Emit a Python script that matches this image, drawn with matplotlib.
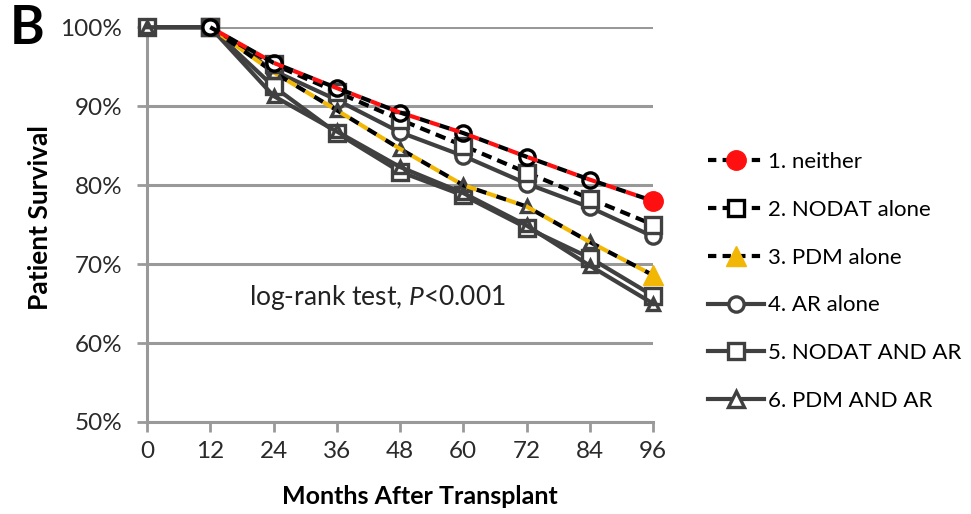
import matplotlib
matplotlib.use("Agg")
import matplotlib.pyplot as plt
from matplotlib.lines import Line2D

plt.rcParams['font.family'] = ['Lato', 'DejaVu Sans']
plt.rcParams['mathtext.fontset'] = 'custom'
plt.rcParams['mathtext.rm'] = 'Lato'
plt.rcParams['mathtext.it'] = 'Lato:italic'

months = [0, 12, 24, 36, 48, 60, 72, 84, 96]
neither = [100, 100, 95.5, 92.3, 89.2, 86.6, 83.6, 80.7, 78.0]
nodat_alone = [100, 100, 95.3, 91.8, 88.3, 85.0, 81.6, 78.3, 75.0]
pdm_alone = [100, 100, 94.3, 89.5, 84.6, 80.0, 77.3, 72.8, 68.6]
ar_alone = [100, 100, 94.5, 90.8, 86.7, 83.7, 80.2, 77.2, 73.5]
nodat_ar = [100, 100, 92.5, 86.6, 81.7, 78.7, 74.6, 70.8, 66.0]
pdm_ar = [100, 100, 91.3, 86.8, 82.3, 79.0, 74.9, 69.8, 65.0]

labels = ["1. neither", "2. NODAT alone", "3. PDM alone",
          "4. AR alone", "5. NODAT AND AR", "6. PDM AND AR"]
yticks = [50, 60, 70, 80, 90, 100]

grey = '#999999'
dark = '#404040'
red = '#ff1010'
yellow = '#f2b705'
lw = 3
ms = 11
mew = 2.4

fig = plt.figure(figsize=(9.71, 5.14), dpi=100)
ax = fig.add_axes([0.1514, 0.179, 0.5211, 0.768])

# gray solid groups
ax.plot(months, ar_alone, '-', color=dark, lw=lw, marker='o', ms=ms,
        mfc='white', mec=dark, mew=mew, zorder=4, clip_on=False)
ax.plot(months, nodat_ar, '-', color=dark, lw=lw, marker='s', ms=ms,
        mfc='white', mec=dark, mew=mew, zorder=5, clip_on=False)
ax.plot(months, pdm_ar, '-', color=dark, lw=lw, marker='^', ms=ms - 2,
        mfc='none', mec=dark, mew=mew, zorder=6, clip_on=False)

# dashed groups
ax.plot(months[1:], pdm_alone[1:], color='black', lw=lw, ls=(0, (2.5, 2.5)),
        marker='^', ms=ms - 2, mfc='none', mec=dark, mew=mew, zorder=7)
ax.plot(months[1:], pdm_alone[1:], color=yellow, lw=lw, ls=(2.5, (2.5, 2.5)),
        zorder=7)
ax.plot(months[-1:], pdm_alone[-1:], '^', ms=ms + 3, color=yellow, zorder=8,
        clip_on=False)

ax.plot(months[1:], nodat_alone[1:], color='black', lw=lw, ls=(0, (2.5, 1.5)),
        marker='s', ms=ms, mfc='white', mec=dark, mew=mew, zorder=8,
        clip_on=False)

ax.plot(months[1:], neither[1:], color='black', lw=lw, ls=(0, (2.5, 2.5)),
        marker='o', ms=ms, mfc='none', mec='black', mew=mew, zorder=9,
        clip_on=False)
ax.plot(months[1:], neither[1:], color=red, lw=lw, ls=(2.5, (2.5, 2.5)),
        zorder=9)
ax.plot(months[-1:], neither[-1:], 'o', ms=ms + 3, color=red, zorder=10,
        clip_on=False)

ax.set_xlim(0, 96)
ax.set_ylim(50, 100)
ax.set_xticks(months)
ax.set_yticks(yticks)
ax.set_yticklabels([f"{v}%" for v in yticks])
ax.yaxis.grid(True, color=grey, lw=2.2)
ax.set_axisbelow(True)
for s in ['top', 'right']:
    ax.spines[s].set_visible(False)
for s in ['left', 'bottom']:
    ax.spines[s].set_color(grey)
    ax.spines[s].set_linewidth(2.2)
ax.tick_params(axis='x', length=7, width=2, color=grey, pad=7,
               labelsize=17.5, labelcolor='#2a2a2a')
ax.tick_params(axis='y', length=7, width=2, color=grey, pad=11,
               labelsize=17.5, labelcolor='#2a2a2a')

ax.text(43.8, 65.8, r"log-rank test, $P$<0.001", fontsize=19, ha='center',
        va='center', color='#222222')

fig.text(40 / 971, 1 - 218 / 514, "Patient Survival", rotation=90,
         fontsize=19, fontweight='bold', ha='center', va='center')
fig.text(420 / 971, 1 - 497 / 514, "Months After Transplant",
         fontsize=18, fontweight='bold', ha='center', va='center')
fig.text(10 / 971, 1 - 28 / 514, "B", fontsize=38, fontweight='bold',
         ha='left', va='center')

handles = [
    Line2D([], [], color='black', lw=lw, ls=(0, (2, 1.5)), marker='o',
           ms=ms + 3, mfc=red, mec=red),
    Line2D([], [], color='black', lw=lw, ls=(0, (2, 1.5)), marker='s', ms=ms,
           mfc='white', mec='black', mew=mew),
    Line2D([], [], color='black', lw=lw, ls=(0, (2, 1.5)), marker='^',
           ms=ms + 3, mfc=yellow, mec=yellow),
    Line2D([], [], color=dark, lw=lw, marker='o', ms=ms, mfc='white',
           mec=dark, mew=mew),
    Line2D([], [], color=dark, lw=lw, marker='s', ms=ms, mfc='white',
           mec=dark, mew=mew),
    Line2D([], [], color=dark, lw=lw, marker='^', ms=ms, mfc='white',
           mec=dark, mew=mew),
]
fig.legend(handles, labels, loc='upper left',
           bbox_to_anchor=(688 / 971, 1 - 132 / 514), frameon=False,
           fontsize=16, handlelength=2.5, handletextpad=0.2,
           labelspacing=1.25)

fig.savefig("out.png", dpi=100)
